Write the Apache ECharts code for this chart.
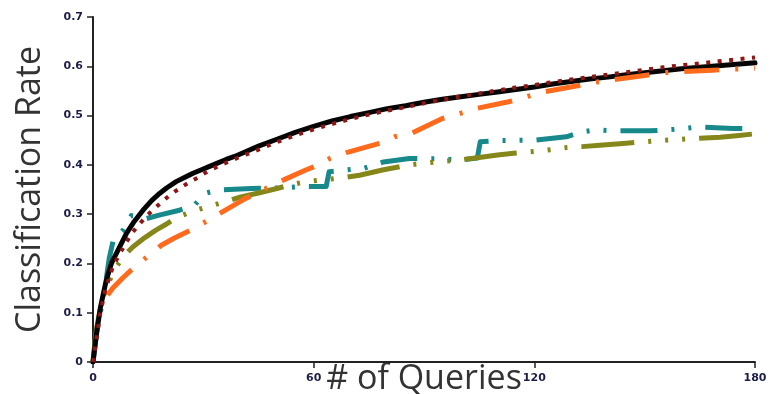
<!DOCTYPE html>
<html>
<head>
<meta charset="utf-8">
<script src="https://cdn.jsdelivr.net/npm/echarts@6/dist/echarts.min.js"></script>
<style>
  html, body { margin: 0; padding: 0; background: #fff; }
  #chart { width: 782px; height: 394px; }
</style>
</head>
<body>
<div id="chart"></div>
<script>
// Classification rate vs. number of queries, five strategies.
const xTicks = [0, 60, 120, 180];
const yTicks = [0, 0.1, 0.2, 0.3, 0.4, 0.5, 0.6, 0.7];

// [queries, rate] pairs
const blackSolid = [
  [0, 0], [1, 0.06], [2, 0.11], [3.6, 0.166], [5, 0.2], [6.8, 0.227], [9.1, 0.261],
  [11, 0.283], [13.6, 0.308], [16, 0.328], [18.1, 0.342], [20, 0.353], [22.6, 0.366],
  [25, 0.375], [27.2, 0.383], [29.5, 0.39], [31.7, 0.397], [34, 0.404], [36.2, 0.411],
  [38.5, 0.417], [41, 0.425], [45, 0.438], [50, 0.452], [55, 0.466], [60, 0.478],
  [65, 0.489], [70, 0.498], [75, 0.506], [80, 0.514], [85, 0.52], [90, 0.527],
  [95, 0.533], [100, 0.538], [105, 0.543], [110, 0.548], [115, 0.553], [120, 0.558],
  [125, 0.564], [130, 0.569], [135, 0.574], [140, 0.578], [145, 0.583],
  [150, 0.587], [155, 0.591], [160, 0.595], [165, 0.598], [170, 0.601],
  [175, 0.604], [180, 0.607]
];

const redDotted = [
  [0, 0], [2, 0.1], [3.3, 0.145], [5.4, 0.193], [7.3, 0.22], [10.4, 0.26],
  [14.5, 0.296], [16.8, 0.312], [19.2, 0.328], [21.3, 0.341], [23.7, 0.353],
  [25.8, 0.363], [28.5, 0.374], [31.2, 0.387], [34, 0.397], [36.7, 0.406],
  [39.9, 0.416], [45, 0.431], [50, 0.446], [55, 0.46], [60, 0.472], [65, 0.483],
  [70, 0.493], [75, 0.502], [80, 0.51], [85, 0.517], [90, 0.525], [95, 0.532],
  [100, 0.539], [105, 0.545], [110, 0.551], [115, 0.557], [120, 0.562], [125, 0.568],
  [130, 0.573], [135, 0.578], [140, 0.583], [145, 0.588], [150, 0.593],
  [155, 0.598], [160, 0.602], [165, 0.606], [170, 0.61], [175, 0.614], [180, 0.618]
];

const orangeDashDot = [
  [4, 0.136], [5.4, 0.15], [8, 0.17], [11.3, 0.193], [15, 0.215], [18.6, 0.237],
  [22, 0.251], [26.7, 0.268], [31.2, 0.287], [35.3, 0.305], [40.8, 0.329], [47, 0.352],
  [52, 0.37], [58, 0.39], [60, 0.396], [64.4, 0.413], [68.9, 0.425], [78, 0.444],
  [82, 0.457], [86.6, 0.464], [91, 0.48], [95, 0.494], [99.7, 0.504], [104, 0.514],
  [113, 0.528], [117.8, 0.538], [122.4, 0.548], [131.4, 0.56], [136, 0.567],
  [140.5, 0.572], [150.4, 0.582], [155, 0.587], [159.5, 0.589], [168.5, 0.592],
  [173.5, 0.594], [180, 0.596]
];

const tealDashDotDot = [
  [0, 0], [1, 0.06], [2, 0.1], [3.3, 0.153], [4.4, 0.21], [5.5, 0.247], [8.2, 0.268],
  [10.4, 0.297], [14.5, 0.291], [18, 0.298], [23.5, 0.308], [27.6, 0.318], [30.3, 0.342],
  [34, 0.349], [43, 0.352], [50, 0.353], [57.6, 0.356], [63.4, 0.356], [64.2, 0.386],
  [69.3, 0.39], [73.7, 0.393], [79, 0.406], [86, 0.413], [95, 0.412], [100, 0.41],
  [104.5, 0.414], [105.3, 0.447], [110, 0.449], [116, 0.45], [120, 0.45],
  [128.7, 0.457], [133, 0.467], [137, 0.471], [141.4, 0.469], [151.4, 0.469],
  [158, 0.472], [165, 0.477], [174, 0.474], [180, 0.474]
];

const oliveDashDots = [
  [0, 0], [0.5, 0.04], [1, 0.07], [1.9, 0.105], [3.3, 0.146], [6, 0.19], [9, 0.22],
  [10.9, 0.234], [14, 0.252], [17, 0.267], [20, 0.28], [22.2, 0.291], [26.7, 0.305],
  [31.2, 0.315], [35.8, 0.325], [40.2, 0.335], [45, 0.343], [50, 0.352], [54, 0.36],
  [58, 0.366], [63, 0.37], [68, 0.374], [72.5, 0.379], [79, 0.39], [86, 0.4],
  [92, 0.405], [99.7, 0.41], [105, 0.415], [110, 0.42], [115, 0.424], [119.7, 0.427],
  [123.6, 0.43], [128.7, 0.435], [133, 0.437], [137.8, 0.44], [145, 0.444],
  [151.8, 0.448], [158, 0.451], [165, 0.454], [170.5, 0.456], [175, 0.459], [180, 0.463]
];

const tickFont = {
  color: '#1c1c48', fontSize: 11, fontWeight: 'bold', fontFamily: 'DejaVu Sans'
};

function lineSeries(name, data, color, width, dash, z, cap) {
  return {
    name, type: 'line', data, z,
    symbol: 'none', smooth: false, animation: false,
    lineStyle: { color, width, type: dash, cap: cap || 'butt', join: 'round' }
  };
}

const chart = echarts.init(document.getElementById('chart'), null, { renderer: 'canvas' });
chart.setOption({
  animation: false,
  grid: {
    left: 93, right: 27, top: 17, bottom: 32,
    containLabel: false, outerBoundsMode: 'none'
  },
  xAxis: {
    type: 'value', min: xTicks[0], max: xTicks[xTicks.length - 1], interval: 60,
    name: '# of Queries', nameLocation: 'middle', nameGap: 0, nameMoveOverlap: false,
    nameTextStyle: { color: '#333', fontSize: 34, fontFamily: 'Open Sans' },
    axisLine: { show: true, onZero: false, lineStyle: { color: '#222', width: 2 } },
    axisTick: { show: true, inside: false, length: 6, lineStyle: { color: '#222', width: 1.5 } },
    axisLabel: Object.assign({ margin: 11 }, tickFont),
    splitLine: { show: false }
  },
  yAxis: {
    type: 'value', min: yTicks[0], max: yTicks[yTicks.length - 1], interval: 0.1,
    name: 'Classification Rate', nameLocation: 'middle', nameGap: 46, nameMoveOverlap: false,
    nameTextStyle: { color: '#333', fontSize: 34, fontFamily: 'Open Sans' },
    axisLine: { show: true, lineStyle: { color: '#222', width: 2 } },
    axisTick: { show: true, inside: false, length: 6, lineStyle: { color: '#222', width: 1.5 } },
    axisLabel: Object.assign({ margin: 10 }, tickFont),
    splitLine: { show: false }
  },
  series: [
    lineSeries('teal', tealDashDotDot, '#17898b', 5, [37, 14, 3, 14, 3, 14], 2),
    lineSeries('olive', oliveDashDots, '#86871a', 5, [53, 14, 3, 14, 3, 14, 3, 14], 2),
    lineSeries('black', blackSolid, '#050505', 5, 'solid', 3, 'round'),
    lineSeries('orange', orangeDashDot, '#ff6a1c', 5, [35, 16, 3, 16], 4),
    lineSeries('red', redDotted, '#8f1616', 4, [4, 7.5], 5)
  ]
});
</script>
</body>
</html>
